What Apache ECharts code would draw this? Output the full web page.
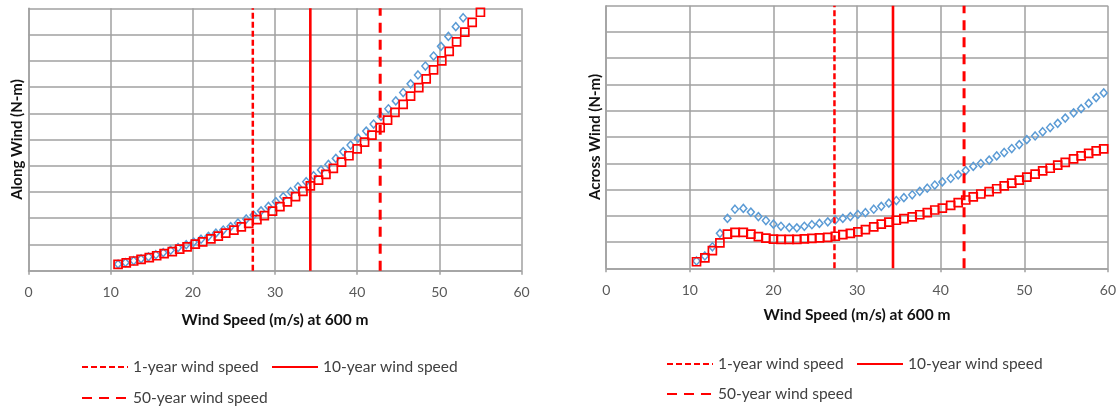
<!DOCTYPE html>
<html>
<head>
<meta charset="utf-8">
<script src="https://cdn.jsdelivr.net/npm/echarts@6/dist/echarts.min.js"></script>
<style>
html,body{margin:0;padding:0;background:#fff;}
#chart{width:1119px;height:408px;}
</style>
</head>
<body>
<div id="chart"></div>
<script>
// ---------- DATA (y in grid units 0-10) ----------
const xTitle = 'Wind Speed (m/s) at 600 m';
const yTitles = ['Along Wind (N-m)', 'Across Wind (N-m)'];
const xTickMin = 0, xTickMax = 60, xTickStep = 10;
const yTickMin = 0, yTickMax = 10, yTickStep = 1;

const lineNames = ['1-year wind speed', '10-year wind speed', '50-year wind speed'];
const lineSpeeds = [27.3, 34.3, 42.8];

// Along wind – red squares
const alongRedX = [10.9, 11.9, 12.8, 13.7, 14.7, 15.6, 16.5, 17.5, 18.4, 19.3, 20.3, 21.2, 22.2, 23.1, 24.0, 25.0, 25.9, 26.8, 27.8, 28.7, 29.7, 30.6, 31.5, 32.5, 33.4, 34.3, 35.3, 36.2, 37.1, 38.1, 39.0, 40.0, 40.9, 41.8, 42.8, 43.7, 44.6, 45.6, 46.5, 47.5, 48.4, 49.3, 50.3, 51.2, 52.1, 53.1, 54.0, 55.0];
const alongRedY = [0.24, 0.30, 0.37, 0.43, 0.50, 0.57, 0.65, 0.73, 0.82, 0.91, 1.01, 1.10, 1.21, 1.32, 1.43, 1.55, 1.67, 1.80, 1.95, 2.10, 2.27, 2.44, 2.62, 2.82, 3.02, 3.23, 3.45, 3.67, 3.90, 4.14, 4.38, 4.64, 4.90, 5.17, 5.45, 5.74, 6.03, 6.34, 6.65, 6.98, 7.31, 7.65, 8.00, 8.36, 8.72, 9.09, 9.46, 9.85];
// Along wind – blue diamonds
const alongBlueX = [10.9, 11.8, 12.8, 13.7, 14.6, 15.5, 16.4, 17.3, 18.2, 19.2, 20.1, 21.0, 21.9, 22.8, 23.7, 24.6, 25.5, 26.5, 27.4, 28.3, 29.2, 30.1, 31.0, 31.9, 32.8, 33.8, 34.7, 35.6, 36.5, 37.4, 38.3, 39.2, 40.1, 41.1, 42.0, 42.9, 43.8, 44.7, 45.6, 46.5, 47.4, 48.3, 49.3, 50.2, 51.1, 52.0, 52.9];
const alongBlueY = [0.25, 0.31, 0.38, 0.45, 0.53, 0.61, 0.69, 0.78, 0.88, 0.99, 1.09, 1.20, 1.31, 1.43, 1.55, 1.68, 1.82, 1.97, 2.12, 2.28, 2.45, 2.63, 2.82, 3.01, 3.20, 3.39, 3.62, 3.84, 4.05, 4.28, 4.54, 4.79, 5.05, 5.32, 5.59, 5.88, 6.17, 6.47, 6.79, 7.12, 7.46, 7.80, 8.18, 8.55, 8.93, 9.30, 9.64];

// Across wind – shared wind speeds
const acrossX = [10.8, 11.8, 12.7, 13.6, 14.5, 15.4, 16.4, 17.3, 18.2, 19.1, 20.0, 20.9, 21.9, 22.8, 23.7, 24.6, 25.5, 26.5, 27.4, 28.3, 29.2, 30.1, 31.0, 32.0, 32.9, 33.8, 34.7, 35.6, 36.6, 37.5, 38.4, 39.3, 40.2, 41.2, 42.1, 43.0, 43.9, 44.8, 45.8, 46.7, 47.6, 48.5, 49.4, 50.3, 51.3, 52.2, 53.1, 54.0, 54.9, 55.9, 56.8, 57.7, 58.6, 59.5];
const acrossRedY = [0.25, 0.40, 0.67, 0.97, 1.30, 1.37, 1.37, 1.30, 1.21, 1.15, 1.11, 1.10, 1.10, 1.10, 1.12, 1.14, 1.16, 1.18, 1.22, 1.28, 1.33, 1.39, 1.47, 1.58, 1.68, 1.76, 1.83, 1.89, 1.96, 2.04, 2.12, 2.22, 2.29, 2.40, 2.50, 2.60, 2.72, 2.83, 2.92, 3.03, 3.14, 3.24, 3.36, 3.47, 3.59, 3.71, 3.81, 3.93, 4.03, 4.17, 4.28, 4.38, 4.47, 4.55];
const acrossBlueY = [0.28, 0.47, 0.82, 1.33, 1.90, 2.25, 2.28, 2.14, 1.97, 1.82, 1.68, 1.60, 1.55, 1.54, 1.60, 1.66, 1.71, 1.77, 1.84, 1.90, 1.97, 2.05, 2.12, 2.25, 2.36, 2.48, 2.58, 2.69, 2.80, 2.93, 3.05, 3.17, 3.29, 3.42, 3.56, 3.72, 3.88, 3.99, 4.12, 4.28, 4.41, 4.56, 4.71, 4.90, 5.04, 5.20, 5.36, 5.52, 5.72, 5.92, 6.08, 6.28, 6.50, 6.68];

// ---------- CHART ----------
const FONT = 'Lato, "Liberation Sans", sans-serif';
const GRID_COLOR = '#A0A0A0';
const RED = '#FF0000';
const BLUE = '#5B9BD5';
const CLEAR = 'rgba(0,0,0,0)';
const lineStyles = [
  { width: 2.5, type: [6, 3] },
  { width: 2.6, type: 'solid' },
  { width: 3, type: [10, 7] }
];

const zip = (xs, ys) => xs.map((x, i) => [x, ys[i]]);

function xAxisFor(i) {
  return {
    gridIndex: i, type: 'value', min: xTickMin, max: xTickMax, interval: xTickStep,
    name: xTitle, nameLocation: 'middle', nameGap: i === 0 ? 41 : 39,
    nameTextStyle: { fontFamily: FONT, fontWeight: 'bold', fontSize: 15.5, color: '#111' },
    axisLine: { show: true, lineStyle: { color: GRID_COLOR, width: 1.5 } },
    axisTick: { show: true, length: 4, lineStyle: { color: GRID_COLOR, width: 1.5 } },
    axisLabel: { fontFamily: FONT, fontSize: 14, color: '#595959', margin: 15 },
    splitLine: { show: true, lineStyle: { color: GRID_COLOR, width: 1.5 } }
  };
}
function yAxisFor(i) {
  return {
    gridIndex: i, type: 'value', min: yTickMin, max: yTickMax, interval: yTickStep,
    name: yTitles[i], nameLocation: 'middle', nameGap: 4,
    nameTextStyle: { fontFamily: FONT, fontWeight: 'bold', fontSize: 15, color: '#111' },
    axisLine: { show: true, lineStyle: { color: GRID_COLOR, width: 1.5 } },
    axisTick: { show: false },
    axisLabel: { show: false },
    splitLine: { show: true, lineStyle: { color: GRID_COLOR, width: 1.5 } }
  };
}

function scatter(name, i, data, symbol, size, color) {
  return {
    name, type: 'scatter', xAxisIndex: i, yAxisIndex: i, data,
    symbol, symbolSize: size, z: 2,
    itemStyle: { color: CLEAR, borderColor: color, borderWidth: symbol === 'rect' ? 1.7 : 1.5, opacity: 1 },
    emphasis: { disabled: true }, silent: true
  };
}

const series = [];
[0, 1].forEach(i => {
  if (i === 0) {
    series.push(scatter('along-blue', 0, zip(alongBlueX, alongBlueY), 'diamond', [7, 8], BLUE));
    series.push(scatter('along-red', 0, zip(alongRedX, alongRedY), 'rect', 8, RED));
  } else {
    series.push(scatter('across-blue', 1, zip(acrossX, acrossBlueY), 'diamond', [7, 8], BLUE));
    series.push(scatter('across-red', 1, zip(acrossX, acrossRedY), 'rect', 8, RED));
  }
  lineNames.forEach((n, k) => {
    series.push({
      name: n, type: 'line', xAxisIndex: i, yAxisIndex: i,
      data: [[lineSpeeds[k], yTickMin], [lineSpeeds[k], yTickMax]],
      symbol: 'none', z: 3, silent: true,
      lineStyle: Object.assign({ color: RED }, lineStyles[k]),
      itemStyle: { color: CLEAR, borderColor: CLEAR, borderWidth: 0 }
    });
  });
});

function legendItem(name, left, top) {
  return {
    data: [name], left, top, padding: 0, itemWidth: 46, itemHeight: 14,
    selectedMode: false,
    itemStyle: { color: CLEAR, borderColor: CLEAR, borderWidth: 0 },
    textStyle: { fontFamily: FONT, fontSize: 15.5, color: '#404040' }
  };
}

const option = {
  animation: false,
  backgroundColor: '#fff',
  textStyle: { fontFamily: FONT },
  grid: [
    { left: 28.5, top: 8.3, width: 493, height: 262.4 },
    { left: 606.2, top: 5.7, width: 503.9, height: 262.6 }
  ],
  xAxis: [xAxisFor(0), xAxisFor(1)],
  yAxis: [yAxisFor(0), yAxisFor(1)],
  legend: [
    legendItem(lineNames[0], 81, 359),
    legendItem(lineNames[1], 271, 359),
    legendItem(lineNames[2], 81, 390),
    legendItem(lineNames[0], 666, 356),
    legendItem(lineNames[1], 856, 356),
    legendItem(lineNames[2], 666, 386)
  ],
  series
};

const chart = echarts.init(document.getElementById('chart'), null, { renderer: 'canvas' });
chart.setOption(option);
</script>
</body>
</html>
